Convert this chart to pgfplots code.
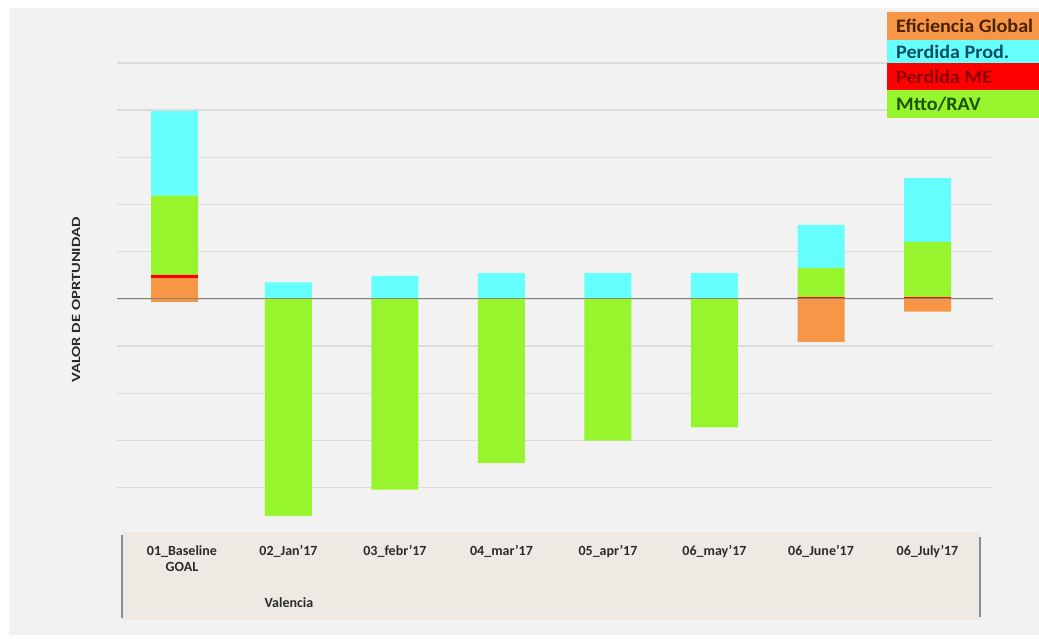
\documentclass[border=0pt]{standalone}
\usepackage{fontspec}
\setmainfont{Carlito}
\usepackage{pgfplots}
\pgfplotsset{compat=1.18}
\definecolor{bggray}{HTML}{F2F2F2}
\definecolor{beige}{HTML}{EEEAE3}
\definecolor{boxline}{HTML}{8C8C8C}
\definecolor{gridgray}{HTML}{DCDCDC}
\definecolor{zerogray}{HTML}{7F7F7F}
\definecolor{tickgray}{HTML}{2B2B2B}
\definecolor{corange}{HTML}{F79646}
\definecolor{ccyan}{HTML}{66FFFF}
\definecolor{cred}{HTML}{FF0000}
\definecolor{cgreen}{RGB}{150,245,45}
\definecolor{torange}{HTML}{4A2400}
\definecolor{tcyan}{HTML}{0B4F5E}
\definecolor{tred}{HTML}{8A0000}
\definecolor{tgreen}{HTML}{1E5200}
\pgfplotsset{
  base/.style={
    width=876pt, height=472pt, scale only axis,
    xmin=-0.61, xmax=7.615, ymin=-5, ymax=5,
    bar width=47pt,
  }
}
% positive parts
\pgfplotstableread{
x orange red green cyan
-0.07 0.45 0.06 1.68 1.79
1 0 0 0 0.35
2 0 0 0 0.49
3 0 0 0 0.55
4 0 0 0 0.55
5 0 0 0 0.55
6 0 0.04 0.62 0.91
7 0 0.04 1.17 1.35
}\pos
% negative parts
\pgfplotstableread{
x orange green
-0.07 -0.06 0
1 0 -4.60
2 0 -4.04
3 0 -3.47
4 0 -3.00
5 0 -2.72
6 -0.91 0
7 -0.27 0
}\negv
\begin{document}
\begin{tikzpicture}[x=1pt,y=1pt]
\path[use as bounding box] (0,0) rectangle (1039,639);
\fill[white] (0,0) rectangle (1039,639);
\fill[bggray] (9,4) rectangle (1039,631);
\fill[beige] (122,19) rectangle (980,107);
\draw[boxline, line width=1.6pt] (122,21) -- (122,104);
\draw[boxline, line width=1.6pt] (980,22) -- (980,102);
\begin{axis}[base, at={(117pt,104pt)}, anchor=south west,
  ybar stacked,
  axis line style={draw=none},
  major tick length=0pt,
  ytick={-4,-3,-2,-1,0,1,2,3,4,5}, yticklabels={},
  ymajorgrids, major grid style={draw=gridgray, line width=1.4pt},
  xtick={0,...,7},
  xticklabels={01\_Baseline\\GOAL, 02\_Jan'17, 03\_febr'17, 04\_mar'17, 05\_apr'17, 06\_may'17, 06\_June'17, 06\_July'17},
  xticklabel style={font=\bfseries\fontsize{14}{16}\selectfont, text=tickgray, align=center, yshift=-7pt},
]
\addplot[fill=corange, draw=none] table[x=x, y=orange] {\pos};
\addplot[fill=cred, draw=none] table[x=x, y=red] {\pos};
\addplot[fill=cgreen, draw=none] table[x=x, y=green] {\pos};
\addplot[fill=ccyan, draw=none] table[x=x, y=cyan] {\pos};
\end{axis}
\begin{axis}[base, at={(117pt,104pt)}, anchor=south west,
  ybar stacked, hide axis]
\addplot[fill=corange, draw=none] table[x=x, y=orange] {\negv};
\addplot[fill=cgreen, draw=none] table[x=x, y=green] {\negv};
\draw[zerogray, line width=1pt] (axis cs:-0.61,0) -- (axis cs:7.615,0);
\end{axis}
\node[font=\bfseries\fontsize{14}{16}\selectfont, text=tickgray] at (289,36) {Valencia};
\node[font=\bfseries\fontsize{12.5}{14}\selectfont, text=tickgray, rotate=90] at (76,339) {\scalebox{1.32}[1]{VALOR DE OPRTUNIDAD}};
% legend
\fill[corange] (887,599) rectangle (1039,627);
\fill[ccyan] (887,576) rectangle (1039,599);
\fill[cred] (887,549) rectangle (1039,576);
\fill[cgreen] (887,521) rectangle (1039,549);
\node[anchor=west, inner sep=0pt, font=\bfseries\fontsize{19}{21}\selectfont, text=torange] at (896,613) {\scalebox{1.06}[1]{Eficiencia Global}};
\node[anchor=west, inner sep=0pt, font=\bfseries\fontsize{19}{21}\selectfont, text=tcyan] at (896,587.5) {\scalebox{1.06}[1]{Perdida Prod.}};
\node[anchor=west, inner sep=0pt, font=\bfseries\fontsize{19}{21}\selectfont, text=tred] at (896,562.5) {\scalebox{1.06}[1]{Perdida ME}};
\node[anchor=west, inner sep=0pt, font=\bfseries\fontsize{19}{21}\selectfont, text=tgreen] at (896,535) {\scalebox{1.06}[1]{Mtto/RAV}};
\end{tikzpicture}
\end{document}
